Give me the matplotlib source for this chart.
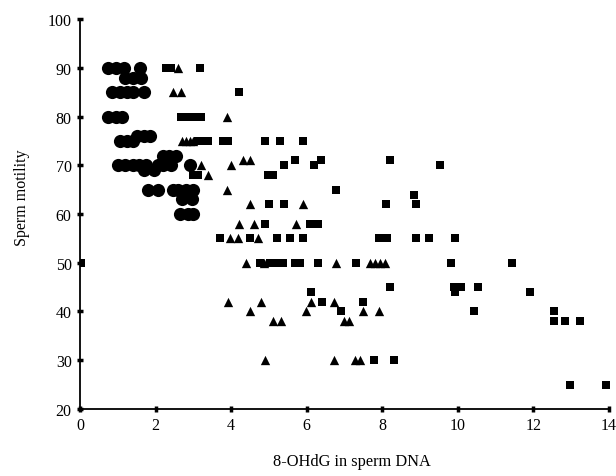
import matplotlib.pyplot as plt

# circles
circ_x = [0.75, 0.95, 1.15, 1.58, 1.2, 1.4, 1.6, 0.85, 1.05, 1.25, 1.4, 1.68,
          0.75, 0.95, 1.1, 1.05, 1.25, 1.4, 1.5, 1.68, 1.85,
          2.2, 2.35, 2.55, 1.0, 1.2, 1.4, 1.55, 1.75, 2.05, 2.2, 2.4, 2.9,
          1.7, 1.95, 1.8, 2.05, 2.45, 2.6, 2.8, 3.0, 2.7, 2.95, 2.65, 2.85, 3.0]
circ_y = [90, 90, 90, 90, 88, 88, 88, 85, 85, 85, 85, 85,
          80, 80, 80, 75, 75, 75, 76, 76, 76,
          72, 72, 72, 70, 70, 70, 70, 70, 70, 70, 70, 70,
          69, 69, 65, 65, 65, 65, 65, 65, 63, 63, 60, 60, 60]

# triangles
tri_x = [2.6, 2.46, 2.68, 3.9, 2.7, 2.8, 2.9, 3.0, 4.3, 4.5, 3.2, 4.0, 3.39, 3.9,
         4.5, 5.91, 4.2, 4.6, 5.71, 3.97, 4.19, 4.72, 4.38, 4.88, 6.78, 7.68, 7.81,
         7.94, 8.06, 3.92, 4.79, 6.1, 6.72, 4.5, 5.98, 7.5, 7.92, 5.11, 5.31, 6.99,
         7.12, 4.9, 6.71, 7.28, 7.41]
tri_y = [90, 85, 85, 80, 75, 75, 75, 75, 71, 71, 70, 70, 68, 65,
         62, 62, 58, 58, 58, 55, 55, 55, 50, 50, 50, 50, 50,
         50, 50, 42, 42, 42, 42, 40, 40, 40, 40, 38, 38, 38,
         38, 30, 30, 30, 30]

# squares
sq_x = [0.03, 2.27, 2.4, 3.17, 4.2, 2.68, 2.86, 3.04, 3.21, 3.12, 3.26, 3.39, 3.79,
        3.92, 4.89, 5.29, 5.91, 5.69, 6.38, 8.21, 5.41, 6.2, 9.52, 2.98, 3.12, 4.98,
        5.11, 6.78, 8.83, 5.01, 5.41, 8.1, 8.9, 4.89, 6.09, 6.31, 3.7, 4.5, 5.2, 5.56,
        5.91, 7.9, 8.12, 8.9, 9.24, 9.92, 4.76, 5.03, 5.2, 5.38, 5.69, 5.82, 6.31,
        7.3, 9.81, 11.42, 8.21, 6.1, 9.9, 10.07, 10.54, 9.92, 11.92, 6.4, 7.5, 6.9,
        10.44, 12.54, 12.54, 12.83, 13.23, 7.79, 8.32, 12.96, 13.93]
sq_y = [50, 90, 90, 90, 85, 80, 80, 80, 80, 75, 75, 75, 75,
        75, 75, 75, 75, 71, 71, 71, 70, 70, 70, 68, 68, 68,
        68, 65, 64, 62, 62, 62, 62, 58, 58, 58, 55, 55, 55, 55,
        55, 55, 55, 55, 55, 55, 50, 50, 50, 50, 50, 50, 50,
        50, 50, 50, 45, 44, 45, 45, 45, 44, 44, 42, 42, 40,
        40, 40, 38, 38, 38, 30, 30, 25, 25]

plt.rcParams['font.family'] = 'Liberation Serif'

fig = plt.figure(figsize=(6.16, 4.77), dpi=100)
ax = fig.add_axes([0.13, 0.1405, 0.8586, 0.8175])

ax.scatter(circ_x, circ_y, marker='o', s=90, color='black', linewidths=0, zorder=3)
ax.scatter(tri_x, tri_y, marker='^', s=45, color='black', linewidths=0, zorder=3)
ax.scatter(sq_x, sq_y, marker='s', s=34, color='black', linewidths=0, zorder=3)

ax.set_xlim(0, 14)
ax.set_ylim(20, 100)
ax.set_xticks(range(0, 15, 2))
ax.set_yticks(range(20, 101, 10))
ax.spines['top'].set_visible(False)
ax.spines['right'].set_visible(False)
ax.spines['left'].set_linewidth(1.3)
ax.spines['bottom'].set_linewidth(1.3)
ax.tick_params(direction='inout', length=4, width=2.5, labelsize=11.5, pad=4)
for sp in ax.spines.values():
    sp.set_clip_on(False)

ax.set_xlabel('8-OHdG in sperm DNA', fontsize=11.8)
ax.xaxis.label.set_va('center')
ax.xaxis.set_label_coords(0.514, -0.133)
ax.set_ylabel('Sperm motility', fontsize=11.5)
ax.yaxis.label.set_va('center')
ax.yaxis.set_label_coords(-0.11, 0.545)

fig.savefig('out.png', dpi=100)
